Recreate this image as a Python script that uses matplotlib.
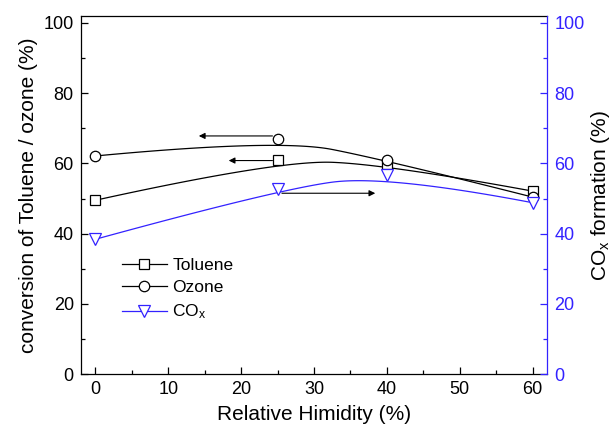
import numpy as np
import matplotlib
matplotlib.use('Agg')
import matplotlib.pyplot as plt
from matplotlib.lines import Line2D

plt.rcParams['font.family'] = ['Liberation Sans', 'DejaVu Sans']
plt.rcParams['mathtext.fontset'] = 'custom'
plt.rcParams['mathtext.rm'] = 'Liberation Sans'
plt.rcParams['mathtext.it'] = 'Liberation Sans'

# data
humidity = [0, 25, 40, 60]
toluene = [49.5, 60.9, 59.7, 52.1]
ozone = [62.1, 67.0, 60.9, 50.4]
cox = [38.4, 52.6, 56.7, 48.8]

# arrows (x start, x end, y) pointing to the axis each curve belongs to
arrow_ozone = [24.3, 14.2, 67.8]
arrow_toluene = [24.3, 18.3, 60.8]
arrow_cox = [25.6, 38.4, 51.5]

blue = '#3322ff'


# quadratic B-spline (like Origin's "B-spline" connect), control points = data
def bspline2(x, y, n=60):
    pts = np.column_stack([np.asarray(x, float), np.asarray(y, float)])
    mids = [pts[0]]
    for i in range(1, len(pts) - 2):
        mids.append((pts[i] + pts[i + 1]) / 2)
    mids.append(pts[-1])
    out = []
    t = np.linspace(0, 1, n)[:, None]
    for k in range(len(mids) - 1):
        p0, p1, p2 = mids[k], pts[k + 1], mids[k + 1]
        out.append((1 - t) ** 2 * p0 + 2 * (1 - t) * t * p1 + t ** 2 * p2)
    out = np.vstack(out)
    return out[:, 0], out[:, 1]


fig = plt.figure(figsize=(6.13, 4.33), dpi=100)
ax = fig.add_axes([0.1317, 0.1356, 0.7611, 0.8281])
ax2 = ax.twinx()

lw = 0.9
for xs, ys, mk in [(humidity, toluene, 's'), (humidity, ozone, 'o')]:
    sx, sy = bspline2(xs, ys)
    ax.plot(sx, sy, color='k', lw=lw)
    ax.plot(xs, ys, linestyle='none', marker=mk, ms=7.5, mfc='white',
            mec='k', mew=0.9)

sx, sy = bspline2(humidity, cox)
ax2.plot(sx, sy, color=blue, lw=lw)
ax2.plot(humidity, cox, linestyle='none', marker='v', ms=9, mfc='white',
         mec=blue, mew=0.9)

for a, arr in [(ax, arrow_ozone), (ax, arrow_toluene), (ax2, arrow_cox)]:
    a.annotate('', xy=(arr[1], arr[2]), xytext=(arr[0], arr[2]),
               arrowprops=dict(arrowstyle='-|>', color='k', lw=0.8,
                               mutation_scale=9, shrinkA=0, shrinkB=0))

ax.set_xlim(-2, 62)
ax.set_ylim(0, 102)
ax2.set_ylim(0, 102)

ax.set_xticks(range(0, 61, 10))
ax.set_xticks(range(5, 61, 10), minor=True)
ax.set_yticks(range(0, 101, 20))
ax.set_yticks(range(10, 101, 20), minor=True)
ax2.set_yticks(range(0, 101, 20))
ax2.set_yticks(range(10, 101, 20), minor=True)

ax.tick_params(which='both', direction='in', top=False, right=False,
               labelsize=13, pad=5)
ax.tick_params(which='major', length=5, width=0.9)
ax.tick_params(which='minor', length=3, width=0.9)
ax2.tick_params(which='both', direction='in', colors=blue, labelsize=13,
                pad=5)
ax2.tick_params(which='major', length=5, width=0.9)
ax2.tick_params(which='minor', length=3, width=0.9)

for s in ['left', 'bottom', 'top']:
    ax.spines[s].set_linewidth(0.9)
ax.spines['right'].set_visible(False)
for s in ['left', 'bottom', 'top']:
    ax2.spines[s].set_visible(False)
ax2.spines['right'].set_color(blue)
ax2.spines['right'].set_linewidth(0.9)

ax.set_xlabel('Relative Himidity (%)', fontsize=15, labelpad=5)
ax.set_ylabel('conversion of Toluene / ozone (%)', fontsize=15, labelpad=4)
ax2.set_ylabel('CO$_{x}$ formation (%)', fontsize=15, labelpad=3,
               color='k')

handles = [
    Line2D([], [], color='k', lw=lw, marker='s', ms=7.5, mfc='white',
           mec='k', mew=0.9),
    Line2D([], [], color='k', lw=lw, marker='o', ms=7.5, mfc='white',
           mec='k', mew=0.9),
    Line2D([], [], color=blue, lw=lw, marker='v', ms=9, mfc='white',
           mec=blue, mew=0.9),
]
ax.legend(handles, ['Toluene', 'Ozone', 'CO$_{x}$'], loc='center left',
          bbox_to_anchor=(0.088, 0.236), frameon=False, fontsize=12.5,
          handlelength=2.6, handletextpad=0.3, labelspacing=0.42,
          borderpad=0, borderaxespad=0)

fig.savefig('out.png', dpi=100)
